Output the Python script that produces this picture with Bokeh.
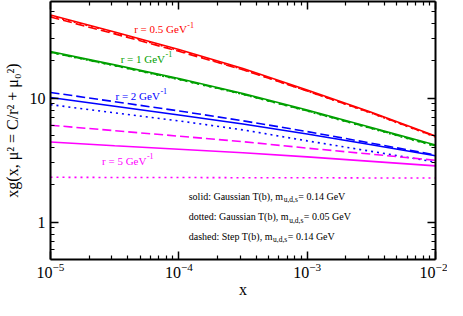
from bokeh.plotting import figure
from bokeh.models import (LogAxis, FixedTicker, LogTickFormatter, BasicTickFormatter,
                          Range1d, ColumnDataSource)
from bokeh.core.properties import value
from bokeh.embed import file_html
from bokeh.resources import INLINE

# ---------------- data ----------------
x_vals = [1e-5, 3.162e-5, 1e-4, 3.162e-4, 1e-3, 3.162e-3, 1e-2]

r05_solid = [46.7, 34.1, 24.6, 17.3, 11.6, 7.70, 4.95]
r05_dotted = [46.0, 33.6, 24.2, 17.0, 11.4, 7.55, 4.86]
r05_dashed = [45.0, 32.9, 23.8, 16.9, 11.4, 7.60, 4.90]

r1_solid = [23.7, 18.5, 14.4, 10.9, 8.00, 5.80, 4.18]
r1_dotted = [23.3, 18.2, 14.1, 10.7, 7.85, 5.68, 4.08]
r1_dashed = [23.4, 18.3, 14.2, 10.75, 7.90, 5.72, 4.12]

r2_solid = [10.1, 8.60, 7.31, 6.17, 5.14, 4.20, 3.43]
r2_dotted = [8.85, 7.60, 6.55, 5.54, 4.52, 3.72, 3.05]
r2_dashed = [11.1, 9.35, 7.88, 6.56, 5.37, 4.33, 3.48]

r5_solid = [4.43, 4.13, 3.87, 3.62, 3.36, 3.09, 2.84]
r5_dotted = [2.30, 2.29, 2.29, 2.28, 2.28, 2.27, 2.27]
r5_dashed = [6.04, 5.46, 4.93, 4.45, 3.95, 3.53, 3.15]

series_colors = ["#ff0000", "#00a000", "#0000ff", "#ff00ff"]
series = [
    (r05_solid, r05_dotted, r05_dashed),
    (r1_solid, r1_dotted, r1_dashed),
    (r2_solid, r2_dotted, r2_dashed),
    (r5_solid, r5_dotted, r5_dashed),
]

r_labels = ["r = 0.5 GeV", "r = 1 GeV", "r = 2 GeV", "r = 5 GeV"]
r_label_sup = "-1"
r_label_x = [4.49e-5, 3.52e-5, 3.21e-5, 2.52e-5]
r_label_y = [36.0, 20.8, 10.4, 3.13]          # text baselines

note_prefix = ["solid: Gaussian T(b), m", "dotted: Gaussian T(b), m", "dashed: Step T(b), m"]
note_sub = "u,d,s"
note_suffix = [" = 0.14 GeV", " = 0.05 GeV", " = 0.14 GeV"]
note_x = 1.194e-4
note_y = [1.62, 1.11, 0.767]                 # text baselines

x_major = [1e-5, 1e-4, 1e-3, 1e-2]
x_minor = [k * 10.0 ** n for n in (-5, -4, -3) for k in range(2, 10)]
y_major = [1, 10]
y_minor = [0.6, 0.7, 0.8, 0.9, 2, 3, 4, 5, 6, 7, 8, 9, 20, 30, 40, 50]

FONT = "Liberation Serif"

# Times-compatible advance widths (per 1000 em) for text offsets
TIMES = {' ': 250, 's': 389, 'o': 500, 'l': 278, 'i': 278, 'd': 500, ':': 278,
         'G': 722, 'a': 444, 'u': 500, 'n': 500, 'T': 611, '(': 333, 'b': 500,
         ')': 333, ',': 250, 'm': 778, 't': 278, 'e': 444, 'h': 500, 'S': 556,
         'p': 500, 'r': 333, '=': 564, '.': 250, 'V': 722, '-': 333}


def tw(s, size):
    return sum(TIMES.get(c, 500) for c in s) * size / 1000.0


# ---------------- figure ----------------
p = figure(width=447, height=300, x_axis_type="log", y_axis_type="log",
           x_range=Range1d(1e-5, 1e-2), y_range=Range1d(0.5, 60),
           output_backend="svg", toolbar_location=None,
           min_border_left=42, min_border_right=12, min_border_top=1,
           min_border_bottom=0)
p.xgrid.visible = False
p.ygrid.visible = False
p.outline_line_color = None
p.background_fill_color = "white"
p.border_fill_color = "white"


def style_axis(ax, xdir, labels=True):
    if xdir:
        ax.ticker = FixedTicker(ticks=x_major, minor_ticks=x_minor)
    else:
        ax.ticker = FixedTicker(ticks=y_major, minor_ticks=y_minor)
    ax.axis_line_color = "black"
    ax.axis_line_width = 2
    ax.major_tick_in = 8
    ax.major_tick_out = 0
    ax.minor_tick_in = 4
    ax.minor_tick_out = 0
    ax.major_tick_line_width = 1.5
    ax.minor_tick_line_width = 1.2
    ax.major_tick_line_color = "black"
    ax.minor_tick_line_color = "black"
    if labels:
        ax.major_label_text_font = FONT
        ax.major_label_text_font_size = "16px"
        ax.major_label_text_color = "black"
        ax.axis_label_text_font = FONT
        ax.axis_label_text_font_size = "16px"
        ax.axis_label_text_font_style = "normal"
        ax.axis_label_text_color = "black"
    else:
        ax.formatter = BasicTickFormatter()
        ax.major_label_text_font_size = "1px"
        ax.major_label_text_alpha = 0
        ax.major_label_standoff = 0


xa = p.xaxis[0]
ya = p.yaxis[0]
style_axis(xa, True)
style_axis(ya, False)
xa.formatter = LogTickFormatter()
ya.formatter = BasicTickFormatter()
xa.axis_label = "x"
xa.major_label_standoff = 3
xa.axis_label_standoff = 0
ya.axis_label = "xg(x, μ² = C/r² + μ₀²)"
ya.major_label_standoff = 5
ya.axis_label_standoff = 6

top = LogAxis()
style_axis(top, True, labels=False)
p.add_layout(top, "above")
right = LogAxis()
style_axis(right, False, labels=False)
p.add_layout(right, "right")

# ---------------- curves ----------------
for (solid, dotted, dashed), col in zip(series, series_colors):
    p.line(x_vals, dotted, line_color=col, line_width=1.6, line_dash="2 4")
    p.line(x_vals, dashed, line_color=col, line_width=1.6, line_dash="9 4")
    p.line(x_vals, solid, line_color=col, line_width=1.6)

# ---------------- r labels ----------------
lab_src = ColumnDataSource(dict(x=r_label_x, y=r_label_y, text=r_labels, color=series_colors))
p.text(x="x", y="y", text="text", text_color="color", source=lab_src,
       text_font=value(FONT), text_font_size="11px", text_align="left",
       text_baseline="alphabetic")
sup_src = ColumnDataSource(dict(x=r_label_x, y=r_label_y,
                                text=[r_label_sup] * len(r_labels), color=series_colors,
                                xo=[tw(t, 11) + 0.5 for t in r_labels]))
p.text(x="x", y="y", text="text", text_color="color", source=sup_src,
       x_offset="xo", y_offset=-4.5,
       text_font=value(FONT), text_font_size="8px", text_align="left",
       text_baseline="alphabetic")

# ---------------- notes ----------------
n = len(note_prefix)
pre_src = ColumnDataSource(dict(x=[note_x] * n, y=note_y, text=note_prefix))
p.text(x="x", y="y", text="text", source=pre_src, text_color="black",
       text_font=value(FONT), text_font_size="10px", text_align="left",
       text_baseline="alphabetic")
sub_src = ColumnDataSource(dict(x=[note_x] * n, y=note_y, text=[note_sub] * n,
                                xo=[tw(t, 10) + 0.5 for t in note_prefix]))
p.text(x="x", y="y", text="text", source=sub_src, text_color="black",
       x_offset="xo", y_offset=3.5,
       text_font=value(FONT), text_font_size="7.5px", text_align="left",
       text_baseline="alphabetic")
suf_src = ColumnDataSource(dict(x=[note_x] * n, y=note_y, text=note_suffix,
                                xo=[tw(t, 10) + tw(note_sub, 7.5) + 1 for t in note_prefix]))
p.text(x="x", y="y", text="text", source=suf_src, text_color="black",
       x_offset="xo",
       text_font=value(FONT), text_font_size="10px", text_align="left",
       text_baseline="alphabetic")

open("out.html", "w").write(file_html(p, INLINE))
